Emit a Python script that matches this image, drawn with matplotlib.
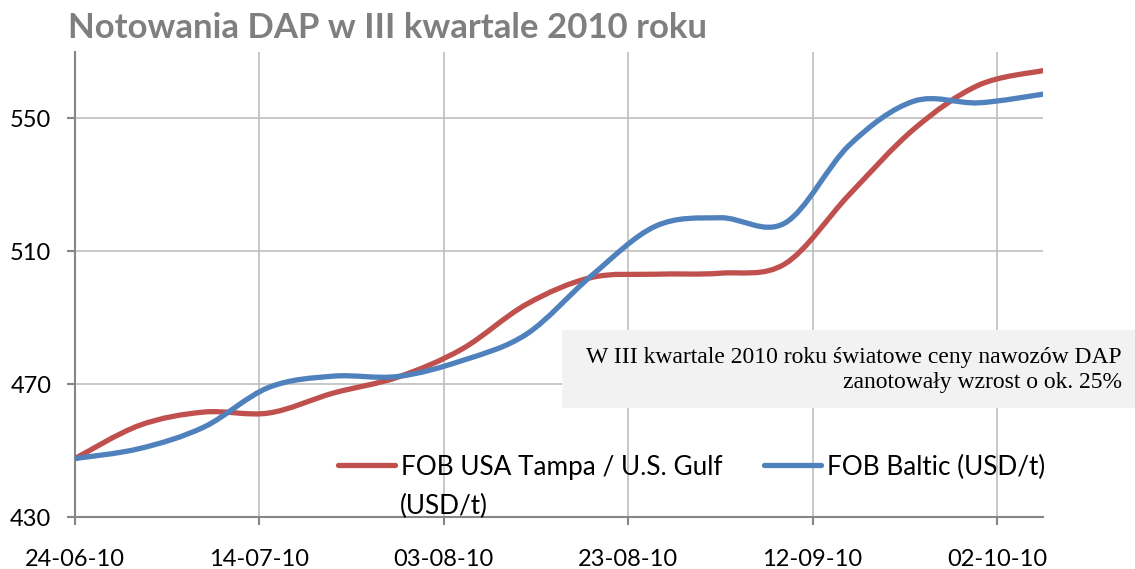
import datetime as dt

import numpy as np
import matplotlib
matplotlib.use("Agg")
import matplotlib.pyplot as plt
import matplotlib.dates as mdates
from matplotlib.path import Path
from matplotlib.patches import PathPatch, Rectangle
from matplotlib.lines import Line2D

# weekly quotes, USD/t
dates = ["2010-06-24", "2010-07-01", "2010-07-08", "2010-07-15", "2010-07-22",
         "2010-07-29", "2010-08-05", "2010-08-12", "2010-08-19", "2010-08-26",
         "2010-09-02", "2010-09-09", "2010-09-16", "2010-09-23", "2010-09-30",
         "2010-10-07"]
tampa = [447.6, 457.6, 461.6, 461.3, 467.3, 472.1, 480.6, 494.1, 502.1, 503.1,
         503.4, 506.2, 527.1, 546.8, 560.0, 564.4]
baltic = [447.6, 450.6, 457.1, 469.0, 472.4, 472.3, 477.1, 485.1, 502.6, 517.6,
          520.1, 518.5, 542.0, 555.2, 554.7, 557.3]

tick_dates = ["2010-06-24", "2010-07-14", "2010-08-03", "2010-08-23",
              "2010-09-12", "2010-10-02"]
y_ticks = [430, 470, 510, 550]

RED = "#c0504d"
BLUE = "#4f81bd"
GRID = "#bfbfbf"
AXIS = "#868686"
FONT = "Lato"
W, H = 1135, 569


def smooth_path(x, y):
    # Excel-style smoothed line: cubic Bezier segments (Catmull-Rom tangents)
    pts = np.column_stack([x, y])
    n = len(pts)
    verts = [pts[0]]
    codes = [Path.MOVETO]
    for i in range(n - 1):
        p0 = pts[max(i - 1, 0)]
        p1 = pts[i]
        p2 = pts[i + 1]
        p3 = pts[min(i + 2, n - 1)]
        c1 = p1 + (p2 - p0) / 6.0
        c2 = p2 - (p3 - p1) / 6.0
        verts += [c1, c2, p2]
        codes += [Path.CURVE4] * 3
    return Path(verts, codes)


x = mdates.date2num([dt.datetime.strptime(d, "%Y-%m-%d") for d in dates])
xt = mdates.date2num([dt.datetime.strptime(d, "%Y-%m-%d") for d in tick_dates])

fig = plt.figure(figsize=(W / 100, H / 100), dpi=100)
ax = fig.add_axes([75 / W, 1 - 517 / H, (1043 - 75) / W, (517 - 52) / H])

for series, col in [(tampa, RED), (baltic, BLUE)]:
    patch = PathPatch(smooth_path(x, series), facecolor="none", edgecolor=col,
                      lw=3.8, capstyle="round", joinstyle="round", zorder=3)
    ax.add_patch(patch)

ax.set_xlim(x[0], x[-1])
ax.set_ylim(430, 570)
ax.set_xticks(xt)
ax.xaxis.set_major_formatter(mdates.DateFormatter("%d-%m-%y"))
ax.set_yticks(y_ticks)

ax.grid(True, color=GRID, lw=1.2)
ax.set_axisbelow(True)
for side in ["top", "right"]:
    ax.spines[side].set_visible(False)
for side in ["left", "bottom"]:
    ax.spines[side].set_color(AXIS)
    ax.spines[side].set_linewidth(1.5)
ax.tick_params(axis="both", colors=AXIS, length=6, width=1.5, labelcolor="black",
               labelsize=17)
ax.tick_params(axis="x", pad=17)
ax.tick_params(axis="y", pad=11)
for lbl in ax.get_xticklabels() + ax.get_yticklabels():
    lbl.set_fontfamily(FONT)

fig.text(68 / W, 1 - 28 / H, "Notowania DAP w III kwartale 2010 roku", fontsize=25,
         fontweight="bold", color="#7f7f7f", family=FONT, va="center", ha="left")

handles = [Line2D([], [], color=RED, lw=3.8, solid_capstyle="round"),
           Line2D([], [], color=BLUE, lw=3.8, solid_capstyle="round")]
labels = ["FOB USA Tampa / U.S. Gulf", "FOB Baltic (USD/t)"]
leg = ax.legend(handles, labels, ncol=2, frameon=False, loc="center left",
                bbox_to_anchor=(338 / W, 1 - 467 / H), bbox_transform=fig.transFigure,
                borderpad=0, borderaxespad=0,
                prop={"family": FONT, "size": 18.8},
                handlelength=2.2, handletextpad=0.2, columnspacing=1.6)
fig.text(400 / W, 1 - 514 / H, "(USD/t)", family=FONT, fontsize=18.8,
         va="baseline", ha="left")

# comment box
fig.add_artist(Rectangle((562 / W, 1 - 408 / H), (W - 562) / W, 78 / H,
                         transform=fig.transFigure, facecolor="#f2f2f2",
                         edgecolor="none", zorder=5))
fig.text(1122 / W, 1 - 370 / H,
         "W III kwartale 2010 roku światowe ceny nawozów DAP\nzanotowały wzrost o ok. 25%",
         family="Liberation Serif", fontsize=17, ha="right", va="center",
         multialignment="right", linespacing=1.25, zorder=6)

fig.savefig("out.png", dpi=100)
